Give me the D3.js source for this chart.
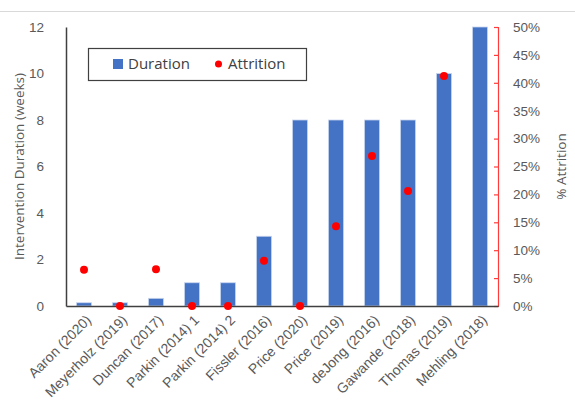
<!DOCTYPE html>
<html>
<head>
<meta charset="utf-8">
<script src="https://cdn.jsdelivr.net/npm/d3@7"></script>
<style>
  html, body { margin: 0; padding: 0; background: #fff; }
  svg { display: block; font-family: "Open Sans", "Noto Sans", sans-serif; }
</style>
</head>
<body>
<svg id="chart" width="575" height="400"></svg>
<script>
// Study labels along the x axis
const studies = ["Aaron (2020)", "Meyerholz (2019)", "Duncan (2017)", "Parkin (2014) 1",
  "Parkin (2014) 2", "Fissler (2016)", "Price (2020)", "Price (2019)", "deJong (2016)",
  "Gawande (2018)", "Thomas (2019)", "Mehling (2018)"];
// Intervention duration in weeks
const duration = [0.14, 0.14, 0.33, 1, 1, 3, 8, 8, 8, 8, 10, 12];
// Attrition as a fraction (null = not reported)
const attrition = [0.065, 0, 0.066, 0, 0, 0.081, 0, 0.143, 0.269, 0.206, 0.412, null];
// Axis ticks
const leftTicks = [0, 2, 4, 6, 8, 10, 12];
const rightTicks = [0, 0.05, 0.10, 0.15, 0.20, 0.25, 0.30, 0.35, 0.40, 0.45, 0.50];

const svg = d3.select("#chart");
const m = { left: 66, right: 498, top: 27, bottom: 306 };
const textCol = "#595959";

// frame line along the top
svg.append("line").attr("x1", 0).attr("x2", 575).attr("y1", 11.5).attr("y2", 11.5)
  .attr("stroke", "#d9d9d9").attr("stroke-width", 1);

const x = d3.scaleBand().domain(studies).range([m.left, m.right]).paddingInner(0.58).paddingOuter(0.29);
const y = d3.scaleLinear().domain([0, 12]).range([m.bottom, m.top]);
const y2 = d3.scaleLinear().domain([0, 0.5]).range([m.bottom, m.top]);

// bars
svg.append("g").selectAll("rect").data(duration).join("rect")
  .attr("x", (d, i) => x(studies[i]))
  .attr("width", x.bandwidth())
  .attr("y", d => y(d))
  .attr("height", d => y(0) - y(d))
  .attr("fill", "#4472c4")
  .attr("stroke", "#c9d6ee").attr("stroke-width", 0.8);

// left axis
const leftAxis = svg.append("g").attr("transform", `translate(${m.left},0)`)
  .call(d3.axisLeft(y).tickValues(leftTicks).tickSize(0).tickPadding(22));
leftAxis.select(".domain").attr("stroke", "#404040").attr("stroke-width", 1.5);
leftAxis.selectAll("text").attr("fill", textCol).attr("font-size", 13.5);

// right axis (attrition)
const rightAxis = svg.append("g").attr("transform", `translate(${m.right},0)`)
  .call(d3.axisRight(y2).tickValues(rightTicks).tickFormat(d3.format(".0%")).tickSizeInner(-4).tickSizeOuter(-4).tickPadding(15));
rightAxis.select(".domain").attr("stroke", "#ff3b3b").attr("stroke-width", 1.2);
rightAxis.selectAll(".tick line").attr("stroke", "#ff3b3b").attr("stroke-width", 1.2);
rightAxis.selectAll("text").attr("fill", textCol).attr("font-size", 13.5);

// bottom axis
const bottomAxis = svg.append("g").attr("transform", `translate(0,${m.bottom})`)
  .call(d3.axisBottom(x).tickSize(0).tickPadding(0));
bottomAxis.select(".domain").attr("stroke", "#404040").attr("stroke-width", 1.5);
bottomAxis.selectAll("text")
  .attr("fill", textCol).attr("font-size", 14)
  .attr("text-anchor", "end")
  .attr("dy", 0)
  .attr("transform", "translate(8,15) rotate(-45)");

// attrition points
svg.append("g").selectAll("circle")
  .data(attrition.map((v, i) => ({ v, s: studies[i] })).filter(d => d.v !== null))
  .join("circle")
  .attr("cx", d => x(d.s) + x.bandwidth() / 2)
  .attr("cy", d => y2(d.v))
  .attr("r", 4)
  .attr("fill", "#ff0000");

// axis titles
svg.append("text")
  .attr("transform", `translate(24,${(m.top + m.bottom) / 2}) rotate(-90)`)
  .attr("text-anchor", "middle").attr("fill", textCol).attr("font-size", 13.5)
  .text("Intervention Duration (weeks)");
svg.append("text")
  .attr("transform", `translate(566,${(m.top + m.bottom) / 2}) rotate(-90)`)
  .attr("text-anchor", "middle").attr("fill", textCol).attr("font-size", 13.5)
  .text("% Attrition");

// legend
const lg = svg.append("g");
lg.append("rect").attr("x", 88.5).attr("y", 48.5).attr("width", 218).attr("height", 32)
  .attr("fill", "#fff").attr("stroke", "#404040").attr("stroke-width", 1.2);
lg.append("rect").attr("x", 113).attr("y", 59).attr("width", 10).attr("height", 10).attr("fill", "#4472c4");
lg.append("text").attr("x", 128).attr("y", 69).attr("font-size", 15).attr("fill", "#404040").text("Duration");
lg.append("circle").attr("cx", 218.5).attr("cy", 64).attr("r", 3.5).attr("fill", "#ff0000");
lg.append("text").attr("x", 228).attr("y", 69).attr("font-size", 15).attr("fill", "#404040").text("Attrition");
</script>
</body>
</html>
